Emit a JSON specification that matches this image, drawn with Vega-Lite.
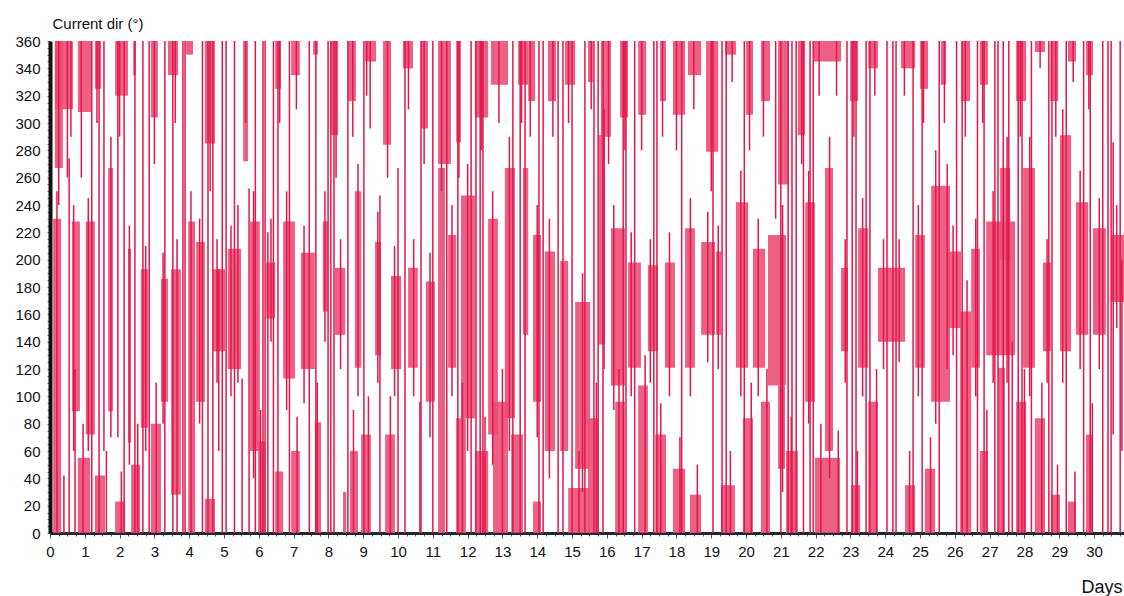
{
  "$schema": "https://vega.github.io/schema/vega-lite/v6.json",
  "width": 1074,
  "height": 492,
  "autosize": "none",
  "padding": {"left": 50, "top": 41, "right": 0, "bottom": 63},
  "background": "white",
  "config": {
    "view": {"stroke": null},
    "font": "Liberation Sans",
    "axis": {"labelFont": "Liberation Sans", "titleFont": "Liberation Sans", "zindex": 1}
  },
  "datasets": {
    "bands": [
      {"t0":0.09,"t1":0.32,"lo":0,"hi":230},{"t0":0.14,"t1":0.66,"lo":310,"hi":360},{"t0":0.14,"t1":0.37,"lo":267,"hi":360},
      {"t0":0.63,"t1":0.86,"lo":89,"hi":228},{"t0":0.80,"t1":1.18,"lo":308,"hi":360},{"t0":0.80,"t1":1.15,"lo":0,"hi":55},
      {"t0":1.03,"t1":1.29,"lo":72,"hi":228},{"t0":1.29,"t1":1.47,"lo":325,"hi":360},{"t0":1.29,"t1":1.58,"lo":0,"hi":42},
      {"t0":1.67,"t1":1.81,"lo":89,"hi":267},{"t0":1.87,"t1":2.24,"lo":320,"hi":360},{"t0":1.87,"t1":2.16,"lo":0,"hi":23},
      {"t0":2.24,"t1":2.33,"lo":66,"hi":208},{"t0":2.39,"t1":2.47,"lo":335,"hi":360},{"t0":2.33,"t1":2.59,"lo":0,"hi":50},
      {"t0":2.61,"t1":2.82,"lo":77,"hi":193},{"t0":2.90,"t1":3.10,"lo":304,"hi":360},{"t0":2.90,"t1":3.19,"lo":0,"hi":80},
      {"t0":3.19,"t1":3.39,"lo":96,"hi":186},{"t0":3.39,"t1":3.68,"lo":335,"hi":360},{"t0":3.48,"t1":3.76,"lo":28,"hi":193},
      {"t0":3.91,"t1":4.11,"lo":350,"hi":360},{"t0":3.97,"t1":4.17,"lo":0,"hi":228},{"t0":4.20,"t1":4.45,"lo":96,"hi":213},
      {"t0":4.45,"t1":4.74,"lo":285,"hi":360},{"t0":4.45,"t1":4.74,"lo":0,"hi":25},{"t0":4.68,"t1":5.03,"lo":133,"hi":193},
      {"t0":5.11,"t1":5.49,"lo":120,"hi":208},{"t0":5.55,"t1":5.69,"lo":272,"hi":360},{"t0":5.75,"t1":6.03,"lo":60,"hi":228},
      {"t0":5.98,"t1":6.18,"lo":0,"hi":67},{"t0":6.21,"t1":6.47,"lo":157,"hi":198},{"t0":6.47,"t1":6.64,"lo":325,"hi":360},
      {"t0":6.47,"t1":6.70,"lo":0,"hi":45},{"t0":6.70,"t1":7.04,"lo":113,"hi":228},{"t0":6.93,"t1":7.18,"lo":335,"hi":360},
      {"t0":6.93,"t1":7.18,"lo":0,"hi":60},{"t0":7.21,"t1":7.61,"lo":120,"hi":205},{"t0":7.56,"t1":7.70,"lo":350,"hi":360},
      {"t0":7.61,"t1":7.79,"lo":0,"hi":81},{"t0":7.84,"t1":7.99,"lo":162,"hi":228},{"t0":8.07,"t1":8.28,"lo":291,"hi":360},
      {"t0":8.19,"t1":8.48,"lo":145,"hi":194},{"t0":8.42,"t1":8.51,"lo":0,"hi":30},{"t0":8.56,"t1":8.79,"lo":316,"hi":360},
      {"t0":8.62,"t1":8.85,"lo":0,"hi":60},{"t0":8.76,"t1":8.94,"lo":121,"hi":250},{"t0":9.05,"t1":9.37,"lo":345,"hi":360},
      {"t0":8.94,"t1":9.22,"lo":0,"hi":72},{"t0":9.34,"t1":9.51,"lo":130,"hi":213},{"t0":9.57,"t1":9.80,"lo":284,"hi":360},
      {"t0":9.63,"t1":9.91,"lo":0,"hi":72},{"t0":9.80,"t1":10.09,"lo":120,"hi":188},{"t0":10.14,"t1":10.43,"lo":340,"hi":360},
      {"t0":10.29,"t1":10.57,"lo":121,"hi":194},{"t0":10.66,"t1":10.86,"lo":296,"hi":360},{"t0":10.80,"t1":11.06,"lo":96,"hi":184},
      {"t0":11.15,"t1":11.52,"lo":270,"hi":360},{"t0":11.15,"t1":11.35,"lo":0,"hi":267},{"t0":11.44,"t1":11.67,"lo":121,"hi":218},
      {"t0":11.67,"t1":11.81,"lo":286,"hi":360},{"t0":11.67,"t1":11.95,"lo":0,"hi":84},{"t0":11.81,"t1":12.21,"lo":84,"hi":247},
      {"t0":12.21,"t1":12.59,"lo":304,"hi":360},{"t0":12.21,"t1":12.59,"lo":0,"hi":60},{"t0":12.59,"t1":12.87,"lo":72,"hi":230},
      {"t0":12.67,"t1":13.16,"lo":328,"hi":360},{"t0":12.73,"t1":13.16,"lo":0,"hi":96},{"t0":13.07,"t1":13.36,"lo":84,"hi":267},
      {"t0":13.45,"t1":13.74,"lo":328,"hi":360},{"t0":13.25,"t1":13.59,"lo":0,"hi":72},{"t0":13.59,"t1":13.74,"lo":145,"hi":267},
      {"t0":13.74,"t1":13.94,"lo":316,"hi":360},{"t0":13.88,"t1":14.11,"lo":96,"hi":218},{"t0":13.88,"t1":14.11,"lo":0,"hi":23},
      {"t0":14.22,"t1":14.51,"lo":60,"hi":206},{"t0":14.31,"t1":14.54,"lo":316,"hi":360},{"t0":14.66,"t1":14.89,"lo":60,"hi":199},
      {"t0":14.80,"t1":15.09,"lo":328,"hi":360},{"t0":14.89,"t1":15.52,"lo":0,"hi":33},{"t0":15.09,"t1":15.52,"lo":47,"hi":169},
      {"t0":15.46,"t1":15.60,"lo":330,"hi":360},{"t0":15.46,"t1":15.75,"lo":0,"hi":84},{"t0":15.83,"t1":16.12,"lo":290,"hi":360},
      {"t0":15.75,"t1":15.95,"lo":138,"hi":291},{"t0":16.12,"t1":16.52,"lo":108,"hi":223},{"t0":16.24,"t1":16.52,"lo":0,"hi":96},
      {"t0":16.38,"t1":16.61,"lo":304,"hi":360},{"t0":16.61,"t1":16.98,"lo":121,"hi":198},{"t0":16.90,"t1":17.13,"lo":306,"hi":360},
      {"t0":16.90,"t1":17.18,"lo":0,"hi":108},{"t0":17.18,"t1":17.47,"lo":133,"hi":196},{"t0":17.53,"t1":17.70,"lo":316,"hi":360},
      {"t0":17.39,"t1":17.70,"lo":0,"hi":72},{"t0":17.67,"t1":17.96,"lo":121,"hi":198},{"t0":17.90,"t1":18.25,"lo":306,"hi":360},
      {"t0":17.90,"t1":18.25,"lo":0,"hi":47},{"t0":18.25,"t1":18.53,"lo":121,"hi":223},{"t0":18.33,"t1":18.71,"lo":335,"hi":360},
      {"t0":18.39,"t1":18.71,"lo":0,"hi":28},{"t0":18.71,"t1":19.11,"lo":145,"hi":213},{"t0":18.85,"t1":19.20,"lo":279,"hi":360},
      {"t0":19.14,"t1":19.28,"lo":145,"hi":206},{"t0":19.28,"t1":19.68,"lo":0,"hi":35},{"t0":19.40,"t1":19.71,"lo":350,"hi":360},
      {"t0":19.71,"t1":20.06,"lo":121,"hi":242},{"t0":20.00,"t1":20.20,"lo":306,"hi":360},{"t0":19.91,"t1":20.20,"lo":0,"hi":84},
      {"t0":20.20,"t1":20.55,"lo":121,"hi":208},{"t0":20.43,"t1":20.69,"lo":316,"hi":360},{"t0":20.43,"t1":20.69,"lo":0,"hi":96},
      {"t0":20.63,"t1":21.15,"lo":108,"hi":218},{"t0":20.92,"t1":21.12,"lo":47,"hi":108},{"t0":20.92,"t1":21.21,"lo":255,"hi":360},
      {"t0":21.15,"t1":21.49,"lo":0,"hi":60},{"t0":21.49,"t1":21.70,"lo":291,"hi":360},{"t0":21.70,"t1":21.98,"lo":96,"hi":242},
      {"t0":21.93,"t1":22.73,"lo":345,"hi":360},{"t0":21.98,"t1":22.70,"lo":0,"hi":55},{"t0":22.27,"t1":22.50,"lo":60,"hi":267},
      {"t0":22.73,"t1":22.93,"lo":133,"hi":194},{"t0":22.99,"t1":23.22,"lo":316,"hi":360},{"t0":23.02,"t1":23.28,"lo":0,"hi":35},
      {"t0":23.22,"t1":23.51,"lo":121,"hi":223},{"t0":23.51,"t1":23.79,"lo":340,"hi":360},{"t0":23.51,"t1":23.79,"lo":0,"hi":96},
      {"t0":23.79,"t1":24.57,"lo":140,"hi":194},{"t0":24.45,"t1":24.86,"lo":340,"hi":360},{"t0":24.57,"t1":24.86,"lo":0,"hi":35},
      {"t0":24.86,"t1":25.14,"lo":121,"hi":218},{"t0":25.00,"t1":25.23,"lo":325,"hi":360},{"t0":25.14,"t1":25.43,"lo":0,"hi":47},
      {"t0":25.32,"t1":25.86,"lo":96,"hi":254},{"t0":25.60,"t1":25.75,"lo":328,"hi":360},
      {"t0":25.80,"t1":26.18,"lo":150,"hi":206},{"t0":26.18,"t1":26.44,"lo":316,"hi":360},{"t0":26.15,"t1":26.47,"lo":0,"hi":162},
      {"t0":26.47,"t1":26.72,"lo":121,"hi":208},{"t0":26.72,"t1":26.95,"lo":328,"hi":360},{"t0":26.72,"t1":26.95,"lo":0,"hi":60},
      {"t0":26.90,"t1":27.73,"lo":130,"hi":228},{"t0":27.30,"t1":27.59,"lo":200,"hi":267},{"t0":27.24,"t1":27.44,"lo":0,"hi":121},
      {"t0":27.76,"t1":28.05,"lo":316,"hi":360},{"t0":27.76,"t1":28.05,"lo":0,"hi":96},{"t0":27.96,"t1":28.30,"lo":121,"hi":267},
      {"t0":28.30,"t1":28.59,"lo":352,"hi":360},{"t0":28.30,"t1":28.59,"lo":0,"hi":84},{"t0":28.53,"t1":28.76,"lo":133,"hi":198},
      {"t0":28.74,"t1":28.97,"lo":316,"hi":360},{"t0":28.76,"t1":29.02,"lo":0,"hi":28},{"t0":29.02,"t1":29.34,"lo":133,"hi":291},
      {"t0":29.25,"t1":29.48,"lo":345,"hi":360},{"t0":29.25,"t1":29.48,"lo":0,"hi":23},{"t0":29.48,"t1":29.83,"lo":145,"hi":242},
      {"t0":29.77,"t1":29.97,"lo":335,"hi":360},{"t0":29.77,"t1":29.97,"lo":0,"hi":72},{"t0":29.97,"t1":30.34,"lo":145,"hi":223},
      {"t0":30.49,"t1":30.86,"lo":169,"hi":218}
    ],
    "strokes": [
      {"t0":0.40,"lo":0,"hi":42},{"t0":0.55,"lo":0,"hi":274},{"t0":0.72,"lo":0,"hi":120},{"t0":1.41,"lo":0,"hi":360},
      {"t0":1.55,"lo":60,"hi":360},{"t0":1.95,"lo":70,"hi":360},{"t0":2.13,"lo":0,"hi":360},{"t0":2.44,"lo":0,"hi":360},
      {"t0":2.67,"lo":0,"hi":360},{"t0":3.53,"lo":0,"hi":360},{"t0":3.82,"lo":0,"hi":360},{"t0":4.54,"lo":0,"hi":360},
      {"t0":4.68,"lo":0,"hi":360},{"t0":4.85,"lo":60,"hi":193},{"t0":5.06,"lo":0,"hi":360},
      {"t0":5.52,"lo":0,"hi":113},{"t0":5.72,"lo":0,"hi":252},{"t0":6.12,"lo":0,"hi":360},{"t0":6.18,"lo":0,"hi":360},
      {"t0":6.26,"lo":0,"hi":220},{"t0":6.55,"lo":0,"hi":360},{"t0":7.64,"lo":0,"hi":360},{"t0":7.99,"lo":0,"hi":360},
      {"t0":8.07,"lo":0,"hi":360},{"t0":8.16,"lo":0,"hi":360},{"t0":8.56,"lo":0,"hi":360},{"t0":9.20,"lo":296,"hi":360},
      {"t0":9.02,"lo":0,"hi":360},{"t0":9.48,"lo":0,"hi":247},{"t0":10.00,"lo":0,"hi":267},{"t0":10.20,"lo":0,"hi":360},
      {"t0":10.66,"lo":0,"hi":360},{"t0":10.63,"lo":0,"hi":96},{"t0":11.72,"lo":0,"hi":360},{"t0":12.24,"lo":0,"hi":360},
      {"t0":12.36,"lo":0,"hi":360},{"t0":12.44,"lo":0,"hi":360},{"t0":13.51,"lo":0,"hi":360},{"t0":13.65,"lo":0,"hi":360},
      {"t0":14.17,"lo":0,"hi":360},{"t0":14.60,"lo":0,"hi":360},{"t0":14.74,"lo":0,"hi":360},{"t0":15.37,"lo":0,"hi":360},
      {"t0":15.63,"lo":0,"hi":360},{"t0":15.75,"lo":0,"hi":360},{"t0":15.89,"lo":0,"hi":360},{"t0":16.47,"lo":0,"hi":360},
      {"t0":16.55,"lo":0,"hi":360},{"t0":17.44,"lo":0,"hi":360},{"t0":19.31,"lo":0,"hi":360},{"t0":19.43,"lo":0,"hi":360},
      {"t0":21.21,"lo":0,"hi":360},{"t0":21.32,"lo":0,"hi":360},{"t0":21.44,"lo":0,"hi":360},{"t0":21.84,"lo":0,"hi":360},
      {"t0":21.93,"lo":0,"hi":360},{"t0":23.05,"lo":0,"hi":360},{"t0":23.16,"lo":0,"hi":360},{"t0":23.56,"lo":0,"hi":360},
      {"t0":24.22,"lo":0,"hi":360},{"t0":24.31,"lo":0,"hi":360},{"t0":25.06,"lo":0,"hi":360},
      {"t0":26.21,"lo":0,"hi":360},{"t0":26.84,"lo":0,"hi":360},{"t0":27.24,"lo":0,"hi":360},{"t0":27.39,"lo":0,"hi":360},
      {"t0":27.82,"lo":0,"hi":360},{"t0":27.93,"lo":0,"hi":360},{"t0":28.79,"lo":0,"hi":360},{"t0":29.89,"lo":0,"hi":360},
      {"t0":30.40,"lo":0,"hi":360},{"t0":30.49,"lo":0,"hi":360},{"t0":30.55,"lo":72,"hi":286},
      {"t0":0.20,"lo":0,"hi":250},{"t0":0.25,"lo":240,"hi":360},{"t0":0.50,"lo":260,"hi":360},{"t0":0.60,"lo":290,"hi":360},
      {"t0":0.68,"lo":60,"hi":240},{"t0":0.90,"lo":260,"hi":360},{"t0":0.95,"lo":0,"hi":80},{"t0":1.10,"lo":60,"hi":245},
      {"t0":1.20,"lo":0,"hi":360},{"t0":1.35,"lo":300,"hi":360},{"t0":1.62,"lo":0,"hi":60},{"t0":1.75,"lo":70,"hi":290},
      {"t0":2.00,"lo":290,"hi":360},{"t0":2.05,"lo":0,"hi":45},{"t0":2.28,"lo":50,"hi":225},{"t0":2.52,"lo":0,"hi":80},
      {"t0":2.75,"lo":60,"hi":210},{"t0":2.85,"lo":0,"hi":360},{"t0":3.00,"lo":270,"hi":360},{"t0":3.05,"lo":0,"hi":110},
      {"t0":3.25,"lo":80,"hi":205},{"t0":3.30,"lo":0,"hi":360},{"t0":3.60,"lo":300,"hi":360},{"t0":3.65,"lo":0,"hi":215},
      {"t0":3.88,"lo":0,"hi":360},{"t0":4.05,"lo":0,"hi":250},{"t0":4.30,"lo":80,"hi":230},{"t0":4.38,"lo":0,"hi":360},
      {"t0":4.60,"lo":250,"hi":360},{"t0":4.80,"lo":110,"hi":215},{"t0":4.95,"lo":0,"hi":360},
      {"t0":5.20,"lo":100,"hi":225},{"t0":5.30,"lo":0,"hi":360},{"t0":5.40,"lo":110,"hi":240},{"t0":5.62,"lo":300,"hi":360},
      {"t0":5.85,"lo":40,"hi":250},{"t0":5.90,"lo":0,"hi":360},{"t0":6.05,"lo":0,"hi":90},{"t0":6.35,"lo":140,"hi":230},
      {"t0":6.42,"lo":0,"hi":360},{"t0":6.60,"lo":300,"hi":360},{"t0":6.80,"lo":90,"hi":250},{"t0":6.88,"lo":0,"hi":360},
      {"t0":7.08,"lo":310,"hi":360},{"t0":7.10,"lo":0,"hi":85},{"t0":7.30,"lo":95,"hi":225},{"t0":7.45,"lo":0,"hi":360},
      {"t0":7.68,"lo":0,"hi":110},{"t0":7.90,"lo":140,"hi":250},{"t0":8.22,"lo":260,"hi":360},{"t0":8.35,"lo":120,"hi":215},
      {"t0":8.70,"lo":290,"hi":360},{"t0":8.72,"lo":0,"hi":90},{"t0":8.85,"lo":100,"hi":270},{"t0":9.10,"lo":320,"hi":360},
      {"t0":9.15,"lo":0,"hi":100},{"t0":9.42,"lo":110,"hi":235},{"t0":9.70,"lo":260,"hi":360},{"t0":9.78,"lo":0,"hi":100},
      {"t0":9.90,"lo":100,"hi":210},{"t0":10.30,"lo":310,"hi":360},
      {"t0":10.45,"lo":100,"hi":215},{"t0":10.75,"lo":270,"hi":360},{"t0":10.92,"lo":70,"hi":205},{"t0":11.00,"lo":0,"hi":360},
      {"t0":11.25,"lo":250,"hi":360},{"t0":11.40,"lo":0,"hi":360},{"t0":11.55,"lo":100,"hi":240},{"t0":11.75,"lo":260,"hi":360},
      {"t0":11.85,"lo":0,"hi":110},{"t0":12.00,"lo":60,"hi":270},{"t0":12.10,"lo":0,"hi":360},{"t0":12.40,"lo":280,"hi":360},
      {"t0":12.50,"lo":0,"hi":85},{"t0":12.72,"lo":50,"hi":250},{"t0":12.90,"lo":300,"hi":360},{"t0":13.00,"lo":0,"hi":120},
      {"t0":13.20,"lo":60,"hi":290},{"t0":13.30,"lo":0,"hi":360},{"t0":13.55,"lo":300,"hi":360},{"t0":13.80,"lo":290,"hi":360},
      {"t0":14.00,"lo":70,"hi":240},{"t0":14.05,"lo":0,"hi":360},{"t0":14.35,"lo":40,"hi":230},{"t0":14.45,"lo":290,"hi":360},
      {"t0":14.90,"lo":300,"hi":360},{"t0":15.00,"lo":0,"hi":360},{"t0":15.20,"lo":0,"hi":60},{"t0":15.30,"lo":30,"hi":190},
      {"t0":15.55,"lo":310,"hi":360},{"t0":15.70,"lo":0,"hi":110},{"t0":15.92,"lo":120,"hi":310},{"t0":16.05,"lo":270,"hi":360},
      {"t0":16.20,"lo":90,"hi":240},{"t0":16.35,"lo":0,"hi":120},{"t0":16.52,"lo":280,"hi":360},{"t0":16.70,"lo":100,"hi":220},
      {"t0":16.80,"lo":0,"hi":360},{"t0":17.00,"lo":280,"hi":360},{"t0":17.10,"lo":0,"hi":130},{"t0":17.25,"lo":110,"hi":215},
      {"t0":17.35,"lo":0,"hi":360},{"t0":17.60,"lo":290,"hi":360},{"t0":17.55,"lo":0,"hi":95},{"t0":17.80,"lo":100,"hi":220},
      {"t0":18.00,"lo":280,"hi":360},{"t0":18.10,"lo":0,"hi":70},{"t0":18.15,"lo":0,"hi":360},{"t0":18.40,"lo":100,"hi":245},
      {"t0":18.50,"lo":310,"hi":360},{"t0":18.60,"lo":0,"hi":50},{"t0":18.90,"lo":125,"hi":235},{"t0":19.00,"lo":250,"hi":360},
      {"t0":19.05,"lo":0,"hi":360},{"t0":19.20,"lo":120,"hi":225},{"t0":19.55,"lo":0,"hi":60},{"t0":19.60,"lo":330,"hi":360},
      {"t0":19.85,"lo":100,"hi":265},{"t0":19.95,"lo":0,"hi":360},{"t0":20.10,"lo":280,"hi":360},{"t0":20.15,"lo":0,"hi":110},
      {"t0":20.35,"lo":100,"hi":230},{"t0":20.50,"lo":290,"hi":360},{"t0":20.60,"lo":0,"hi":120},
      {"t0":20.85,"lo":230,"hi":360},{"t0":21.00,"lo":0,"hi":360},{"t0":21.05,"lo":30,"hi":240},{"t0":21.30,"lo":0,"hi":85},
      {"t0":21.60,"lo":270,"hi":360},{"t0":21.65,"lo":0,"hi":360},{"t0":21.80,"lo":80,"hi":265},{"t0":22.10,"lo":320,"hi":360},
      {"t0":22.15,"lo":0,"hi":80},{"t0":22.40,"lo":40,"hi":290},{"t0":22.60,"lo":320,"hi":360},{"t0":22.65,"lo":0,"hi":75},
      {"t0":22.85,"lo":110,"hi":215},{"t0":22.90,"lo":0,"hi":360},{"t0":23.10,"lo":290,"hi":360},{"t0":23.20,"lo":0,"hi":60},
      {"t0":23.35,"lo":100,"hi":245},{"t0":23.45,"lo":0,"hi":360},{"t0":23.70,"lo":320,"hi":360},{"t0":23.75,"lo":0,"hi":120},
      {"t0":23.95,"lo":120,"hi":215},{"t0":24.05,"lo":0,"hi":360},{"t0":24.40,"lo":125,"hi":215},{"t0":24.55,"lo":320,"hi":360},
      {"t0":24.70,"lo":0,"hi":60},{"t0":24.80,"lo":0,"hi":360},{"t0":24.95,"lo":100,"hi":240},{"t0":25.10,"lo":300,"hi":360},
      {"t0":25.30,"lo":0,"hi":70},{"t0":25.45,"lo":80,"hi":280},{"t0":25.55,"lo":0,"hi":360},{"t0":25.70,"lo":300,"hi":360},
      {"t0":25.78,"lo":120,"hi":270},
      {"t0":25.95,"lo":130,"hi":225},{"t0":26.05,"lo":0,"hi":360},{"t0":26.30,"lo":290,"hi":360},{"t0":26.35,"lo":0,"hi":185},
      {"t0":26.60,"lo":100,"hi":230},{"t0":26.65,"lo":0,"hi":360},{"t0":26.80,"lo":300,"hi":360},{"t0":26.92,"lo":0,"hi":90},
      {"t0":27.10,"lo":110,"hi":250},{"t0":27.15,"lo":0,"hi":360},{"t0":27.50,"lo":110,"hi":290},{"t0":27.55,"lo":0,"hi":360},
      {"t0":27.65,"lo":0,"hi":140},{"t0":27.88,"lo":290,"hi":360},{"t0":28.00,"lo":0,"hi":120},{"t0":28.15,"lo":100,"hi":290},
      {"t0":28.20,"lo":0,"hi":360},{"t0":28.45,"lo":340,"hi":360},{"t0":28.50,"lo":0,"hi":110},{"t0":28.65,"lo":110,"hi":215},
      {"t0":28.70,"lo":0,"hi":360},{"t0":28.90,"lo":290,"hi":360},{"t0":28.95,"lo":0,"hi":50},{"t0":29.10,"lo":110,"hi":310},
      {"t0":29.20,"lo":0,"hi":360},{"t0":29.40,"lo":330,"hi":360},{"t0":29.45,"lo":0,"hi":45},{"t0":29.60,"lo":120,"hi":265},
      {"t0":29.70,"lo":0,"hi":360},{"t0":29.85,"lo":310,"hi":360},{"t0":29.95,"lo":0,"hi":95},{"t0":30.15,"lo":120,"hi":245},
      {"t0":30.25,"lo":0,"hi":360},{"t0":30.65,"lo":150,"hi":240},{"t0":30.75,"lo":0,"hi":360},{"t0":30.80,"lo":60,"hi":200}
    ]
  },
  "encoding": {
    "x": {
      "field": "t0", "type": "quantitative",
      "scale": {"domain": [0, 30.86], "nice": false, "zero": false},
      "axis": {
        "title": "Days", "titleFontSize": 18, "titleFontWeight": "normal", "titleColor": "#111",
        "titleAngle": 0, "titleAlign": "right", "titleBaseline": "alphabetic", "titleX": 1072, "titleY": 59,
        "values": [0,0.25,0.5,0.75,1,1.25,1.5,1.75,2,2.25,2.5,2.75,3,3.25,3.5,3.75,4,4.25,4.5,4.75,5,5.25,5.5,5.75,6,6.25,6.5,6.75,7,7.25,7.5,7.75,8,8.25,8.5,8.75,9,9.25,9.5,9.75,10,10.25,10.5,10.75,11,11.25,11.5,11.75,12,12.25,12.5,12.75,13,13.25,13.5,13.75,14,14.25,14.5,14.75,15,15.25,15.5,15.75,16,16.25,16.5,16.75,17,17.25,17.5,17.75,18,18.25,18.5,18.75,19,19.25,19.5,19.75,20,20.25,20.5,20.75,21,21.25,21.5,21.75,22,22.25,22.5,22.75,23,23.25,23.5,23.75,24,24.25,24.5,24.75,25,25.25,25.5,25.75,26,26.25,26.5,26.75,27,27.25,27.5,27.75,28,28.25,28.5,28.75,29,29.25,29.5,29.75,30,30.25,30.5,30.75],
        "labelExpr": "datum.value % 1 == 0 ? format(datum.value, 'd') : ''",
        "labelOverlap": false, "labelFlush": false, "labelFontSize": 15, "labelColor": "#111", "labelPadding": 6,
        "tickSize": {"condition": {"test": "datum.value % 1 == 0", "value": 5}, "value": 3},
        "tickColor": "#555", "tickWidth": 1,
        "domainColor": "#1d2a33", "domainWidth": 3, "grid": false
      }
    },
    "y": {
      "field": "lo", "type": "quantitative",
      "scale": {"domain": [0, 360], "nice": false},
      "axis": {
        "title": "Current dir (°)", "titleFontSize": 15, "titleFontWeight": "normal", "titleColor": "#111",
        "titleAngle": 0, "titleAlign": "left", "titleBaseline": "alphabetic", "titleX": 2, "titleY": -13,
        "tickCount": 72,
        "labelExpr": "datum.value % 20 == 0 ? format(datum.value, 'd') : ''",
        "labelOverlap": false, "labelFlush": false, "labelFontSize": 15, "labelColor": "#111", "labelPadding": 7,
        "tickSize": 3, "tickColor": "#666", "tickWidth": 1,
        "domainColor": "#111", "domainWidth": 4, "grid": false
      }
    },
    "y2": {"field": "hi"}
  },
  "layer": [
    {
      "data": {"name": "bands"},
      "mark": {"type": "rect", "color": "#ea4a72", "opacity": 0.88},
      "encoding": {"x2": {"field": "t1"}}
    },
    {
      "data": {"name": "strokes"},
      "mark": {"type": "rule", "color": "#e2174b", "strokeWidth": 1.5}
    }
  ]
}
